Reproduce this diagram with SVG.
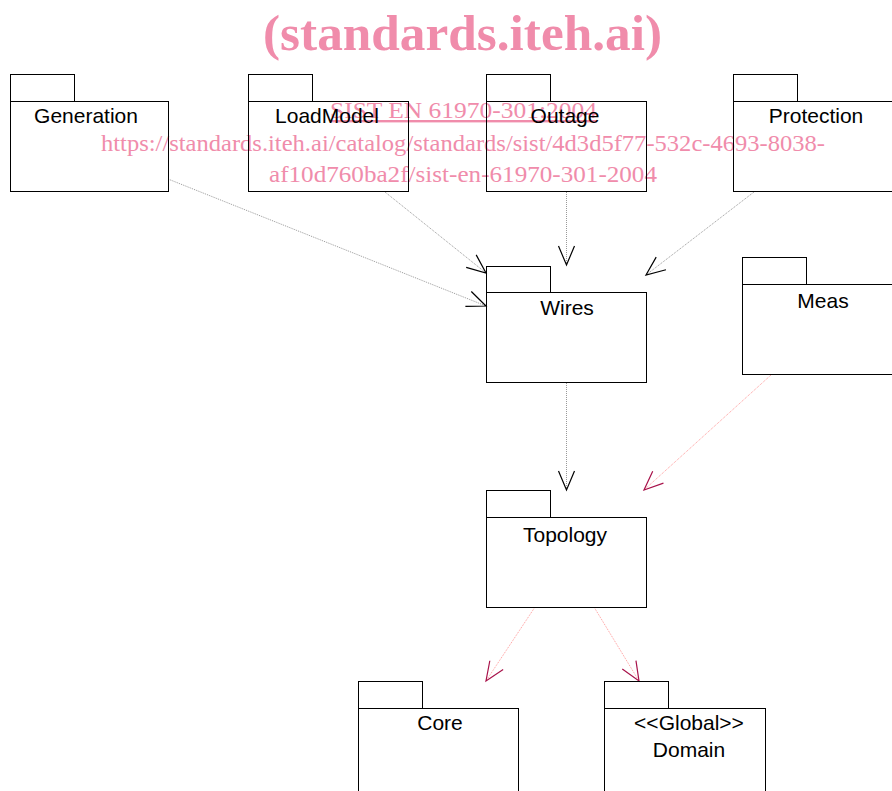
<svg xmlns="http://www.w3.org/2000/svg" width="892" height="791" viewBox="0 0 892 791">
<style>
.box{fill:none;stroke:#000;stroke-width:1}
.lbl{font-family:"Liberation Sans",Arial,sans-serif;font-size:21px;fill:#000;text-anchor:middle}
.dep{fill:none;stroke:#999;stroke-width:1;stroke-dasharray:1,1}
.depp{fill:none;stroke:#ff9a9a;stroke-width:1;stroke-dasharray:1,1}
.wm{font-family:"Liberation Serif","Times New Roman",serif;fill:#f08cab}
</style>
<defs>
<marker id="ah" markerUnits="userSpaceOnUse" markerWidth="24" markerHeight="24" viewBox="-22 -12 24 24" refX="0" refY="0" orient="auto">
<path d="M-19,-8 L0,0 L-19,8" fill="none" stroke="#000" stroke-width="1.2"/>
</marker>
<marker id="ahp" markerUnits="userSpaceOnUse" markerWidth="24" markerHeight="24" viewBox="-22 -12 24 24" refX="0" refY="0" orient="auto">
<path d="M-19,-8 L0,0 L-19,8" fill="none" stroke="#a8124a" stroke-width="1.2"/>
</marker>
</defs>
<rect width="892" height="791" fill="#fff"/>
<g id="watermark">
<text class="wm" x="263" y="50" font-size="51" font-weight="bold" textLength="399" lengthAdjust="spacingAndGlyphs">(standards.iteh.ai)</text>
<text class="wm" x="330" y="118" font-size="24" text-decoration="underline" textLength="267" lengthAdjust="spacingAndGlyphs">SIST EN 61970-301:2004</text>
<text class="wm" x="101" y="151" font-size="24" textLength="724" lengthAdjust="spacingAndGlyphs">https://standards.iteh.ai/catalog/standards/sist/4d3d5f77-532c-4693-8038-</text>
<text class="wm" x="269" y="182" font-size="24" textLength="388" lengthAdjust="spacingAndGlyphs">af10d760ba2f/sist-en-61970-301-2004</text>
</g>
<g id="connectors">
<line class="dep" x1="168" y1="179" x2="486" y2="306" marker-end="url(#ah)"/>
<line class="dep" x1="385" y1="192" x2="486" y2="273" marker-end="url(#ah)"/>
<line class="dep" x1="566.5" y1="192" x2="566.5" y2="265" marker-end="url(#ah)"/>
<line class="dep" x1="754" y1="192" x2="646" y2="275" marker-end="url(#ah)"/>
<line class="dep" x1="566.5" y1="383" x2="566.5" y2="490" marker-end="url(#ah)"/>
<line class="depp" x1="771" y1="375" x2="644" y2="490" marker-end="url(#ahp)"/>
<line class="depp" x1="535" y1="607" x2="486" y2="681" marker-end="url(#ahp)"/>
<line class="depp" x1="594" y1="607" x2="639" y2="681" marker-end="url(#ahp)"/>
</g>
<g id="Generation">
<rect class="box" x="10.5" y="74.5" width="64" height="27"/>
<rect class="box" x="10.5" y="101.5" width="158" height="90"/>
<text class="lbl" x="86" y="123">Generation</text>
</g>
<g id="LoadModel">
<rect class="box" x="248.5" y="74.5" width="64" height="27"/>
<rect class="box" x="248.5" y="101.5" width="160" height="90"/>
<text class="lbl" x="327" y="123">LoadModel</text>
</g>
<g id="Outage">
<rect class="box" x="486.5" y="74.5" width="64" height="27"/>
<rect class="box" x="486.5" y="101.5" width="160" height="90"/>
<text class="lbl" x="565" y="123">Outage</text>
</g>
<g id="Protection">
<rect class="box" x="733.5" y="74.5" width="64" height="27"/>
<rect class="box" x="733.5" y="101.5" width="162" height="90"/>
<text class="lbl" x="816" y="123">Protection</text>
</g>
<g id="Wires">
<rect class="box" x="486.5" y="266.5" width="64" height="26"/>
<rect class="box" x="486.5" y="292.5" width="160" height="90"/>
<text class="lbl" x="567" y="315">Wires</text>
</g>
<g id="Meas">
<rect class="box" x="742.5" y="257.5" width="64" height="27"/>
<rect class="box" x="742.5" y="284.5" width="162" height="90"/>
<text class="lbl" x="823" y="308">Meas</text>
</g>
<g id="Topology">
<rect class="box" x="486.5" y="490.5" width="64" height="27"/>
<rect class="box" x="486.5" y="517.5" width="160" height="90"/>
<text class="lbl" x="565" y="542">Topology</text>
</g>
<g id="Core">
<rect class="box" x="358.5" y="681.5" width="64" height="27"/>
<rect class="box" x="358.5" y="708.5" width="160" height="90"/>
<text class="lbl" x="440" y="730">Core</text>
</g>
<g id="Domain">
<rect class="box" x="604.5" y="681.5" width="64" height="27"/>
<rect class="box" x="604.5" y="708.5" width="161" height="90"/>
<text class="lbl" x="689" y="730">&lt;&lt;Global&gt;&gt;</text>
<text class="lbl" x="689" y="757">Domain</text>
</g>
</svg>
